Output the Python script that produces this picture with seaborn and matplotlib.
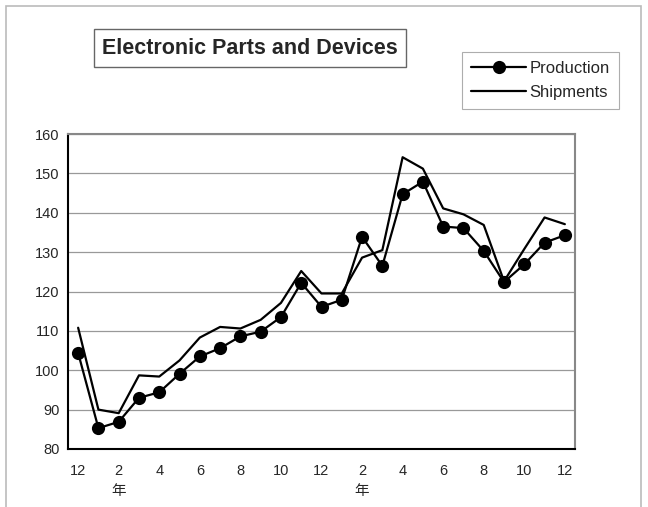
import numpy as np
import pandas as pd
import matplotlib.pyplot as plt
import matplotlib.patches as mpatches
import seaborn as sns

# Valores (índice 2005=100 aprox.)
months = [12, 1, 2, 3, 4, 5, 6, 7, 8, 9, 10, 11, 12, 1, 2, 3, 4, 5, 6, 7, 8, 9, 10, 11, 12]
production = [104.4, 85.3, 86.9, 93.0, 94.4, 99.1, 103.5, 105.6, 108.6, 109.8, 113.5, 122.2,
              116.1, 117.9, 133.9, 126.5, 144.7, 147.9, 136.5, 136.1, 130.3, 122.4, 126.9, 132.4, 134.3]
shipments = [110.8, 90.0, 89.1, 98.7, 98.4, 102.5, 108.3, 111.0, 110.6, 112.8, 117.1, 125.2,
             119.5, 119.5, 128.6, 130.5, 154.1, 151.2, 141.1, 139.6, 136.9, 122.6, 130.8, 138.8, 137.1]
year_mark = "年"

df = pd.DataFrame({"idx": range(len(months)), "month": months,
                   "Production": production, "Shipments": shipments})

sns.set_style("white")
plt.rcParams["font.family"] = ["Liberation Sans", "Noto Sans CJK JP", "DejaVu Sans"]

fig = plt.figure(figsize=(6.48, 5.07), dpi=100)
ax = fig.add_axes([68 / 648, 58 / 507, 507 / 648, 315 / 507])

sns.lineplot(data=df, x="idx", y="Production", ax=ax, color="black", lw=1.6,
             marker="o", markersize=9.5, markeredgewidth=0, label="Production")
sns.lineplot(data=df, x="idx", y="Shipments", ax=ax, color="black", lw=1.6,
             label="Shipments")

ax.set_xlim(-0.5, len(months) - 0.5)
ax.set_ylim(80, 160)
ax.set_yticks(np.arange(80, 161, 10))
ax.yaxis.grid(True, color="#999999", lw=0.9)
ax.tick_params(axis="y", direction="out", length=3, labelsize=10.5, pad=3, color="black")

labels = []
for i, m in enumerate(months):
    if i % 2 == 0:
        labels.append(f"{m}\n{year_mark}" if m == 2 else str(m))
ax.set_xticks(range(0, len(months), 2))
ax.set_xticklabels(labels)
ax.set_xticks(np.arange(1.5, len(months) - 1, 2), minor=True)
ax.tick_params(axis="x", which="major", length=0, labelsize=10.5, pad=11)
ax.tick_params(axis="x", which="minor", direction="in", length=4, color="#555555")
for lbl in ax.get_xticklabels():
    lbl.set_linespacing(1.55)

ax.set_xlabel("")
ax.set_ylabel("")
for side in ["top", "right"]:
    ax.spines[side].set_color("#888888")
    ax.spines[side].set_linewidth(1.5)
for side in ["left", "bottom"]:
    ax.spines[side].set_color("black")
    ax.spines[side].set_linewidth(1.5)

ax.get_legend().remove()
handles, lbls = ax.get_legend_handles_labels()
leg = fig.legend(handles, lbls, loc="upper left", bbox_to_anchor=(462 / 648, 1 - 52 / 507),
                 fontsize=12, frameon=True, fancybox=False, edgecolor="#999999",
                 handlelength=3.3, handletextpad=0.2, borderpad=0.55, labelspacing=0.5,
                 borderaxespad=0)
leg.get_frame().set_linewidth(0.8)

fig.text(250 / 648, 1 - 48 / 507, "Electronic Parts and Devices", ha="center", va="center",
         fontsize=15.5, fontweight="bold",
         bbox=dict(boxstyle="square,pad=0.4", fc="white", ec="#666666", lw=1))

# borde exterior del área del gráfico
fig.patches.append(mpatches.Rectangle((6 / 648, -0.05), 635 / 648, 1.05 - 6 / 507,
                                      transform=fig.transFigure, fill=False,
                                      ec="#bbbbbb", lw=1.2))

fig.savefig("out.png", dpi=100)
